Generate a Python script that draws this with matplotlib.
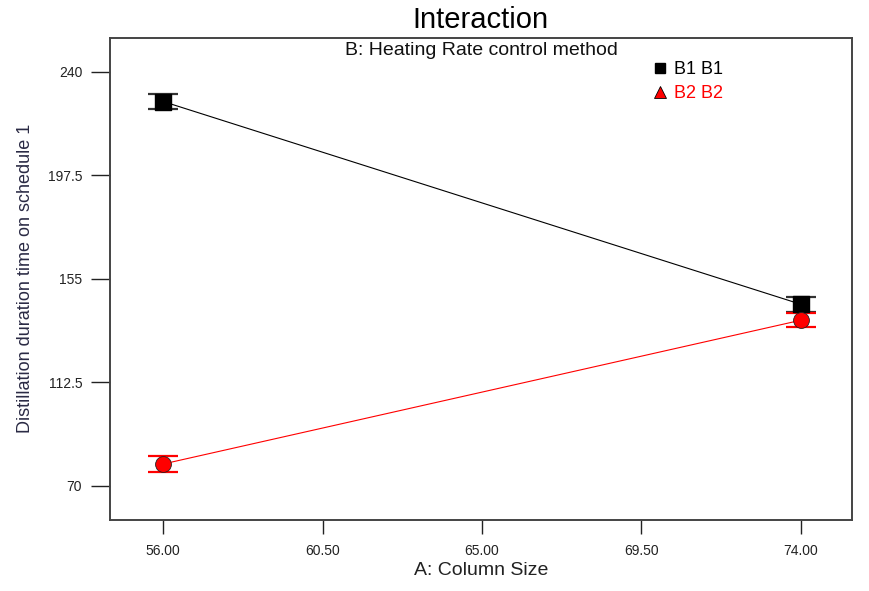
import numpy as np
import matplotlib.pyplot as plt

plt.rcParams['font.family'] = ['Liberation Sans', 'DejaVu Sans']

# Datos
column_size = [56.0, 74.0]
b1_mean = [227.8, 144.6]
b1_err = [3.0, 3.0]
b2_mean = [79.0, 138.0]
b2_err = [3.2, 2.9]

x_ticks = [56.0, 60.5, 65.0, 69.5, 74.0]
x_ticklabels = ["56.00", "60.50", "65.00", "69.50", "74.00"]
y_ticks = [70, 112.5, 155, 197.5, 240]
y_ticklabels = ["70", "112.5", "155", "197.5", "240"]

fig = plt.figure(figsize=(8.69, 5.91), dpi=100)
ax = fig.add_axes([0.1266, 0.1201, 0.8538, 0.8161])

# Líneas de interacción
ax.plot(column_size, b1_mean, color='black', lw=0.8, zorder=2)
ax.plot(column_size, b2_mean, color='red', lw=0.8, zorder=2)

# Barras de error
ax.errorbar(column_size, b1_mean, yerr=b1_err, fmt='none', ecolor='#333333',
            elinewidth=1.2, capsize=11, capthick=1.6, zorder=3)
ax.errorbar(column_size, b2_mean, yerr=b2_err, fmt='none', ecolor='red',
            elinewidth=1.2, capsize=11, capthick=1.6, zorder=3)

# Marcadores
ax.scatter(column_size, b1_mean, marker='s', s=130, color='black', zorder=4)
ax.scatter(column_size, b2_mean, marker='o', s=130, color='red',
           edgecolors='#222222', linewidths=0.6, zorder=4)

# Leyenda manual
ax.plot([], [], 's', color='black', ms=7, label='B1 B1')
ax.plot([], [], '^', color='red', mec='black', mew=0.6, ms=8, label='B2 B2')
leg = ax.legend(loc='upper left', bbox_to_anchor=(0.707, 0.985), frameon=False,
                fontsize=13, handletextpad=0.3, labelspacing=0.4,
                handlelength=1.0)
leg.get_texts()[0].set_color('black')
leg.get_texts()[1].set_color('red')

ax.set_xlim(54.5, 75.45)
ax.set_ylim(56, 254)
ax.set_xticks(x_ticks)
ax.set_xticklabels(x_ticklabels)
ax.set_yticks(y_ticks)
ax.set_yticklabels(y_ticklabels)
ax.tick_params(axis='y', direction='out', length=14, width=1, labelsize=10, pad=6, colors='#222222')
ax.tick_params(axis='x', direction='out', length=10, width=1, labelsize=10, pad=7, colors='#222222')

for sp in ax.spines.values():
    sp.set_color('#444444')
    sp.set_linewidth(1.4)

ax.set_xlabel("A: Column Size", fontsize=14, color='#222222', labelpad=3)
ax.set_ylabel("Distillation duration time on schedule 1", fontsize=13,
              color='#2a2a44', labelpad=10)
fig.suptitle("Interaction", fontsize=21, y=0.99, x=0.553)
ax.text(0.5, 0.992, "B: Heating Rate control method", transform=ax.transAxes,
        ha='center', va='top', fontsize=14, color='#111111')

plt.savefig("out.png", dpi=100)
